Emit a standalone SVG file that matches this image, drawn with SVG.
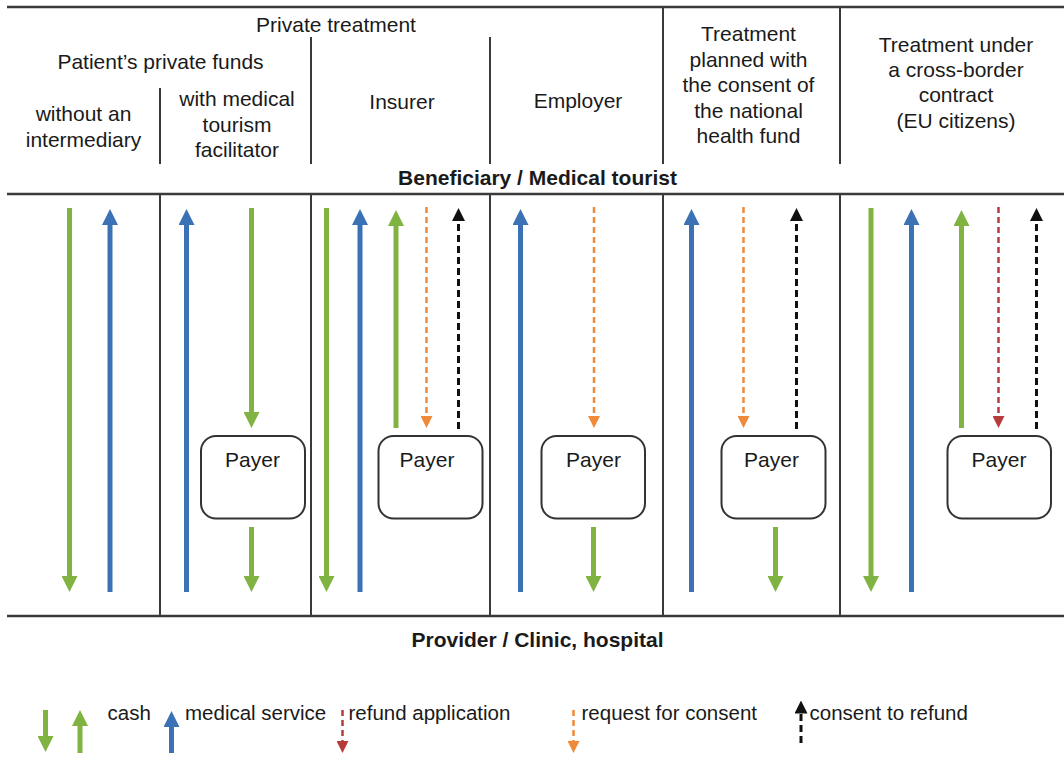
<svg xmlns="http://www.w3.org/2000/svg" width="1064" height="758" viewBox="0 0 1064 758">
<style>
text{font-family:"Liberation Sans",Arial,Helvetica,sans-serif;font-size:21px;fill:#1a1a1a}
.c{text-anchor:middle}
.b{font-weight:bold}
.lg{font-size:20.5px}
.frame{stroke:#3a3a3a;stroke-width:2.5;fill:none}
.div{stroke:#3a3a3a;stroke-width:2;fill:none}
.box{fill:#fff;stroke:#333;stroke-width:2}
.g{stroke:#80b341;stroke-width:5;fill:none}
.bl{stroke:#3b72b5;stroke-width:5;fill:none}
.o{stroke:#ef8a3a;stroke-width:2.5;stroke-dasharray:6 4;fill:none}
.r{stroke:#b63b3b;stroke-width:2.5;stroke-dasharray:6 4;fill:none}
.k{stroke:#111;stroke-width:3;stroke-dasharray:7 4;fill:none}
.gh{marker-end:url(#mg)}
.bh{marker-end:url(#mb)}
.oh{marker-end:url(#mo)}
.rh{marker-end:url(#mr)}
.kh{marker-end:url(#mk)}
</style>
<defs>
<marker id="mg" markerUnits="userSpaceOnUse" viewBox="0 0 16 16" refX="0" refY="8" markerWidth="16" markerHeight="16" orient="auto"><path d="M0,0 L16,8 L0,16 z" fill="#80b341"/></marker>
<marker id="mb" markerUnits="userSpaceOnUse" viewBox="0 0 16 16" refX="0" refY="8" markerWidth="16" markerHeight="16" orient="auto"><path d="M0,0 L16,8 L0,16 z" fill="#3b72b5"/></marker>
<marker id="mo" markerUnits="userSpaceOnUse" viewBox="0 0 12 12" refX="0" refY="6" markerWidth="12" markerHeight="12" orient="auto"><path d="M0,0 L12,6 L0,12 z" fill="#ef8a3a"/></marker>
<marker id="mr" markerUnits="userSpaceOnUse" viewBox="0 0 12 12" refX="0" refY="6" markerWidth="12" markerHeight="12" orient="auto"><path d="M0,0 L12,6 L0,12 z" fill="#b63b3b"/></marker>
<marker id="mk" markerUnits="userSpaceOnUse" viewBox="0 0 13 13" refX="0" refY="6.5" markerWidth="13" markerHeight="13" orient="auto"><path d="M0,0 L13,6.5 L0,13 z" fill="#111"/></marker>
</defs>
<rect width="1064" height="758" fill="#fff"/>

<g id="grid">
<line class="frame" x1="7" y1="7" x2="1064" y2="7"/>
<line class="frame" x1="7" y1="194" x2="1064" y2="194"/>
<line class="frame" x1="7" y1="616" x2="1064" y2="616"/>
<line class="div" x1="160" y1="88" x2="160" y2="164"/>
<line class="div" x1="311" y1="37" x2="311" y2="164"/>
<line class="div" x1="490" y1="37" x2="490" y2="164"/>
<line class="div" x1="663" y1="7" x2="663" y2="164"/>
<line class="div" x1="840" y1="7" x2="840" y2="164"/>
<line class="div" x1="160" y1="194" x2="160" y2="616"/>
<line class="div" x1="311" y1="194" x2="311" y2="616"/>
<line class="div" x1="490" y1="194" x2="490" y2="616"/>
<line class="div" x1="663" y1="194" x2="663" y2="616"/>
<line class="div" x1="840" y1="194" x2="840" y2="616"/>
</g>

<g id="headers">
<text class="c" x="336" y="32">Private treatment</text>
<text class="c" x="160.5" y="69">Patient’s private funds</text>
<text class="c" x="83.5" y="120.5">without an</text>
<text class="c" x="83.5" y="146.5">intermediary</text>
<text class="c" x="237" y="106">with medical</text>
<text class="c" x="237" y="131.5">tourism</text>
<text class="c" x="237" y="157">facilitator</text>
<text class="c" x="402" y="109">Insurer</text>
<text class="c" x="578" y="107.5">Employer</text>
<text class="c" x="748.5" y="41">Treatment</text>
<text class="c" x="748.5" y="66.5">planned with</text>
<text class="c" x="748.5" y="92">the consent of</text>
<text class="c" x="748.5" y="117.5">the national</text>
<text class="c" x="748.5" y="143">health fund</text>
<text class="c" x="956" y="52">Treatment under</text>
<text class="c" x="956" y="77">a cross-border</text>
<text class="c" x="956" y="102">contract</text>
<text class="c" x="956" y="127.5">(EU citizens)</text>
</g>

<g id="beneficiary"><text class="c b" x="537.5" y="185">Beneficiary / Medical tourist</text></g>
<g id="provider"><text class="c b" x="537.5" y="647">Provider / Clinic, hospital</text></g>

<g id="payer1"><rect class="box" x="201" y="436" width="104" height="82.5" rx="15"/><text class="c" x="252.5" y="467">Payer</text></g>
<g id="payer2"><rect class="box" x="378.5" y="436" width="104" height="82.5" rx="15"/><text class="c" x="427" y="467">Payer</text></g>
<g id="payer3"><rect class="box" x="541.5" y="436" width="103.5" height="82.5" rx="15"/><text class="c" x="593.5" y="467">Payer</text></g>
<g id="payer4"><rect class="box" x="721.5" y="436" width="104" height="82.5" rx="15"/><text class="c" x="771.5" y="467">Payer</text></g>
<g id="payer5"><rect class="box" x="947.5" y="436" width="103.5" height="82.5" rx="15"/><text class="c" x="999" y="467">Payer</text></g>

<g id="connectors">
<line class="g gh" x1="69.5" y1="208" x2="69.5" y2="576"/>
<line class="bl bh" x1="110" y1="592" x2="110" y2="225"/>
<line class="bl bh" x1="186.5" y1="592" x2="186.5" y2="225"/>
<line class="g gh" x1="251.5" y1="208" x2="251.5" y2="412"/>
<line class="g gh" x1="251.5" y1="527" x2="251.5" y2="576"/>
<line class="g gh" x1="326.5" y1="208" x2="326.5" y2="576"/>
<line class="bl bh" x1="360" y1="592" x2="360" y2="225"/>
<line class="g gh" x1="396" y1="428" x2="396" y2="226"/>
<line class="o oh" x1="426.5" y1="207" x2="426.5" y2="416"/>
<line class="k kh" x1="458.5" y1="429" x2="458.5" y2="221"/>
<line class="bl bh" x1="520.5" y1="592" x2="520.5" y2="225"/>
<line class="o oh" x1="594" y1="207" x2="594" y2="416"/>
<line class="g gh" x1="593.5" y1="527" x2="593.5" y2="576"/>
<line class="bl bh" x1="691.5" y1="592" x2="691.5" y2="225"/>
<line class="o oh" x1="743.5" y1="207" x2="743.5" y2="416"/>
<line class="k kh" x1="796.5" y1="429" x2="796.5" y2="221"/>
<line class="g gh" x1="775.5" y1="527" x2="775.5" y2="576"/>
<line class="g gh" x1="871" y1="208" x2="871" y2="576"/>
<line class="bl bh" x1="911.5" y1="592" x2="911.5" y2="225"/>
<line class="g gh" x1="961.5" y1="428" x2="961.5" y2="226"/>
<line class="r rh" x1="998.5" y1="207" x2="998.5" y2="416"/>
<line class="k kh" x1="1036.5" y1="429" x2="1036.5" y2="221"/>
</g>

<g id="legend">
<line class="g gh" x1="45.5" y1="710" x2="45.5" y2="736"/>
<line class="g gh" x1="80" y1="753" x2="80" y2="726"/>
<text class="lg" x="107.5" y="720">cash</text>
<line class="bl bh" x1="171.5" y1="753" x2="171.5" y2="727"/>
<text class="lg" x="185" y="720">medical service</text>
<line class="r rh" x1="342.5" y1="710" x2="342.5" y2="741"/>
<text class="lg" x="348.5" y="720">refund application</text>
<line class="o oh" x1="573.5" y1="710" x2="573.5" y2="741"/>
<text class="lg" x="581.5" y="720">request for consent</text>
<line class="k kh" x1="801" y1="743" x2="801" y2="713.5"/>
<text class="lg" x="809.5" y="720">consent to refund</text>
</g>
</svg>
